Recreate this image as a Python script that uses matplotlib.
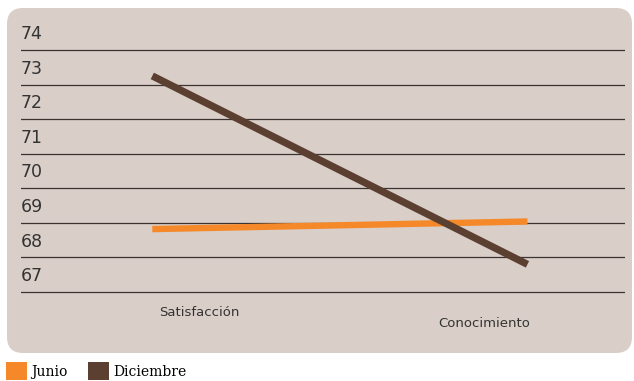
import matplotlib.pyplot as plt
from matplotlib.patches import FancyBboxPatch, Patch
from matplotlib.transforms import blended_transform_factory

categorias = ["Satisfacción", "Conocimiento"]
junio = [68.82, 69.04]
diciembre = [73.25, 67.8]
niveles = [67, 68, 69, 70, 71, 72, 73, 74]

fondo = "#d9cec8"
naranja = "#f5892a"
cafe = "#5b4032"

fig = plt.figure(figsize=(6.34, 3.81), dpi=100)

# Fondo redondeado detrás del gráfico
caja = FancyBboxPatch((0.07, 0.28), 6.25, 3.45,
                      boxstyle="round,pad=0,rounding_size=0.16",
                      transform=fig.dpi_scale_trans, facecolor=fondo,
                      edgecolor="none", zorder=-5)
fig.patches.append(caja)

ax = fig.add_axes([21 / 634, 1 - 326.6 / 381, 604 / 634, (326.6 - 15.4) / 381])
ax.set_facecolor("none")
ax.set_xlim(-0.35, 1.26)
ax.set_ylim(66, 75)

# Líneas horizontales con su etiqueta encima
trans = blended_transform_factory(ax.transAxes, ax.transData)
for v in niveles:
    ax.axhline(v, color="#3a3330", lw=0.9, zorder=1)
    ax.text(0.0, v + 0.2, str(v), transform=trans, ha="left", va="bottom",
            fontsize=12.5, color="#333333", family="DejaVu Sans")

x = range(len(categorias))
ax.plot(x, junio, color=naranja, lw=4.6, solid_capstyle="butt", zorder=3)
ax.plot(x, diciembre, color=cafe, lw=5.2, solid_capstyle="butt", zorder=4)

# Etiquetas de categoría (escalonadas como en el original)
ax.text(0.125, 66.4, categorias[0], ha="center", va="center", fontsize=9.5,
        color="#333333", family="DejaVu Sans")
ax.text(0.885, 66.1, categorias[1], ha="center", va="center", fontsize=9.5,
        color="#333333", family="DejaVu Sans")

for s in ax.spines.values():
    s.set_visible(False)
ax.set_xticks([])
ax.set_yticks([])

handles = [Patch(facecolor=naranja, label="Junio"),
           Patch(facecolor=cafe, label="Diciembre")]
fig.legend(handles=handles, loc="lower left", bbox_to_anchor=(0.0, -0.012),
           ncol=2, frameon=False, handlelength=1.55, handleheight=1.6,
           handletextpad=0.3, columnspacing=1.45, borderaxespad=0.0,
           prop={"family": "DejaVu Serif", "size": 10})

fig.savefig("out.png", dpi=100)
